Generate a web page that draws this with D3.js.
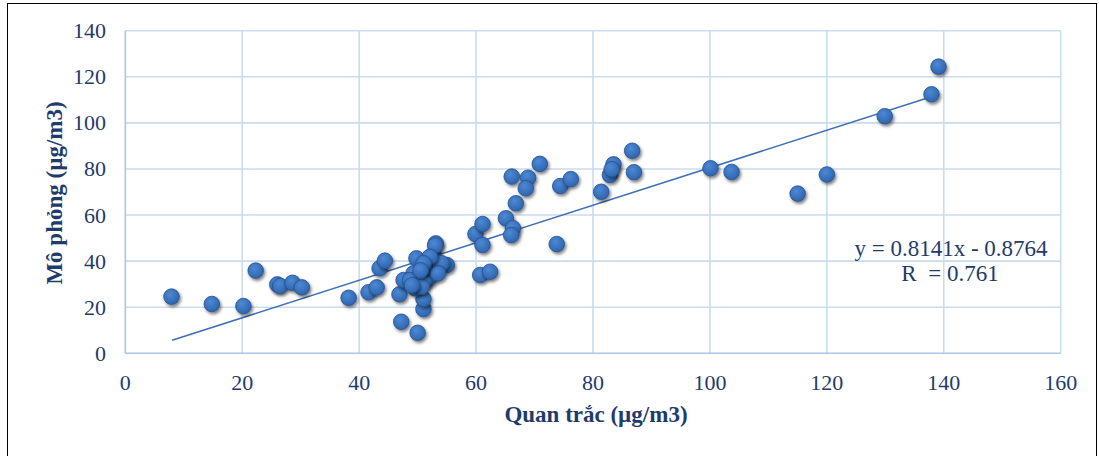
<!DOCTYPE html>
<html>
<head>
<meta charset="utf-8">
<script src="https://cdn.jsdelivr.net/npm/d3@7"></script>
<style>
  html, body { margin: 0; padding: 0; background: #fff; }
  svg { display: block; font-family: "Liberation Serif", "Times New Roman", serif; }
</style>
</head>
<body>
<svg id="chart"></svg>
<script>
// Observed (x) vs simulated (y), µg/m3
const observed = [
  7.9, 14.8, 20.2, 22.3, 26.0, 26.5, 28.6, 30.2, 38.2, 41.6, 43.0, 43.5, 44.4,
  46.9, 47.2, 50.0, 51.0, 51.0,
  49.8, 49.3, 47.6, 48.7, 49.6, 52.0, 51.0, 50.7, 51.3, 52.7, 53.1, 53.0, 55.0,
  54.1, 53.5, 52.1, 51.0, 50.5, 49.0,
  59.9, 61.1, 61.1, 60.7, 62.4, 65.1, 66.3, 66.0, 66.8, 66.1, 68.9, 68.5, 70.9,
  74.4, 76.2, 73.8, 81.4, 82.9, 83.5, 83.2, 86.7, 87.0,
  100.1, 103.7, 115.0, 120.0, 129.9, 137.9, 139.1
];
const simulated = [
  24.6, 21.4, 20.5, 35.9, 29.9, 29.2, 30.6, 28.6, 24.1, 26.5, 28.6, 36.9, 40.2,
  25.6, 13.7, 8.9, 19.2, 23.6,
  41.2, 34.7, 31.8, 31.8, 28.2, 32.6, 31.1, 28.9, 37.6, 42.7, 47.7, 46.8, 38.3,
  39.1, 34.7, 41.9, 39.1, 36.0, 29.5,
  51.8, 56.1, 47.0, 34.0, 35.4, 58.6, 54.3, 51.3, 65.1, 76.7, 76.2, 71.6, 82.2,
  72.6, 75.6, 47.4, 70.1, 77.4, 82.0, 79.9, 87.9, 78.6,
  80.3, 78.7, 69.3, 77.6, 102.9, 112.4, 124.4
];
const xTicks = [0, 20, 40, 60, 80, 100, 120, 140, 160];
const yTicks = [0, 20, 40, 60, 80, 100, 120, 140];
const slope = 0.8141;
const intercept = -0.8764;
const trendRange = [8, 138];
const equationText = "y = 0.8141x - 0.8764";
const rText = "R\u00a0 = 0.761";

const W = 1099, H = 456;
const margin = { left: 125.3, right: W - 1060.7, top: 30.7, bottom: H - 353.3 };
const textColor = "#1f3b6b";

const svg = d3.select("#chart").attr("width", W).attr("height", H);

// outer frame
svg.append("rect")
  .attr("x", 7.5).attr("y", 3.5)
  .attr("width", 1089).attr("height", 470)
  .attr("fill", "none").attr("stroke", "#000").attr("stroke-width", 1);

const x = d3.scaleLinear().domain([0, 160]).range([margin.left, W - margin.right]);
const y = d3.scaleLinear().domain([0, 140]).range([H - margin.bottom, margin.top]);

const defs = svg.append("defs");
const grad = defs.append("radialGradient").attr("id", "dot")
  .attr("cx", "40%").attr("cy", "35%").attr("r", "70%");
grad.append("stop").attr("offset", "0%").attr("stop-color", "#4d89d4");
grad.append("stop").attr("offset", "100%").attr("stop-color", "#2b62ab");
const shadow = defs.append("filter").attr("id", "shadow")
  .attr("x", "-50%").attr("y", "-50%").attr("width", "200%").attr("height", "200%");
shadow.append("feDropShadow").attr("dx", 1.5).attr("dy", 2.2)
  .attr("stdDeviation", 1.8).attr("flood-color", "#000").attr("flood-opacity", 0.5);

// gridlines
svg.append("g").selectAll("line.v").data(xTicks.slice(1)).join("line")
  .attr("x1", d => x(d)).attr("x2", d => x(d))
  .attr("y1", y(0)).attr("y2", y(140))
  .attr("stroke", "#cbdbf0").attr("stroke-width", 1.6);
svg.append("g").selectAll("line.h").data(yTicks.slice(1)).join("line")
  .attr("x1", x(0)).attr("x2", x(160))
  .attr("y1", d => y(d)).attr("y2", d => y(d))
  .attr("stroke", "#cbdbf0").attr("stroke-width", 1.6);

// axis lines
svg.append("line").attr("x1", x(0)).attr("x2", x(0)).attr("y1", y(0)).attr("y2", y(140))
  .attr("stroke", "#adc5e8").attr("stroke-width", 1.6);
svg.append("line").attr("x1", x(0)).attr("x2", x(160)).attr("y1", y(0)).attr("y2", y(0))
  .attr("stroke", "#adc5e8").attr("stroke-width", 1.6);

// tick labels
svg.append("g").selectAll("text").data(xTicks).join("text")
  .attr("x", d => x(d)).attr("y", 382)
  .attr("text-anchor", "middle").attr("dominant-baseline", "central")
  .attr("font-size", 22).attr("fill", textColor)
  .text(d => d);
svg.append("g").selectAll("text").data(yTicks).join("text")
  .attr("x", 106).attr("y", d => y(d))
  .attr("text-anchor", "end").attr("dominant-baseline", "central")
  .attr("font-size", 22).attr("fill", textColor)
  .text(d => d);

// axis titles
svg.append("text")
  .attr("x", 596).attr("y", 414)
  .attr("text-anchor", "middle").attr("dominant-baseline", "central")
  .attr("font-size", 23).attr("font-weight", "bold").attr("fill", textColor)
  .text("Quan trắc (µg/m3)");
svg.append("text")
  .attr("transform", "translate(54,193) rotate(-90)")
  .attr("text-anchor", "middle").attr("dominant-baseline", "central")
  .attr("font-size", 23).attr("font-weight", "bold").attr("fill", textColor)
  .text("Mô phỏng (µg/m3)");

// trendline
svg.append("line")
  .attr("x1", x(trendRange[0])).attr("y1", y(slope * trendRange[0] + intercept))
  .attr("x2", x(trendRange[1])).attr("y2", y(slope * trendRange[1] + intercept))
  .attr("stroke", "#3f6fb8").attr("stroke-width", 1.5);

// points
const points = observed.map((v, i) => ({ x: v, y: simulated[i] }));
svg.append("g").selectAll("circle").data(points).join("circle")
  .attr("cx", d => x(d.x)).attr("cy", d => y(d.y)).attr("r", 7.8)
  .attr("fill", "url(#dot)").attr("stroke", "#27508e").attr("stroke-width", 0.8)
  .attr("filter", "url(#shadow)");

// regression annotation
svg.append("text")
  .attr("x", 951).attr("y", 248)
  .attr("text-anchor", "middle").attr("dominant-baseline", "central")
  .attr("font-size", 23).attr("fill", textColor)
  .text(equationText);
svg.append("text")
  .attr("x", 950).attr("y", 273)
  .attr("text-anchor", "middle").attr("dominant-baseline", "central")
  .attr("font-size", 23).attr("fill", textColor)
  .text(rText);
</script>
</body>
</html>
